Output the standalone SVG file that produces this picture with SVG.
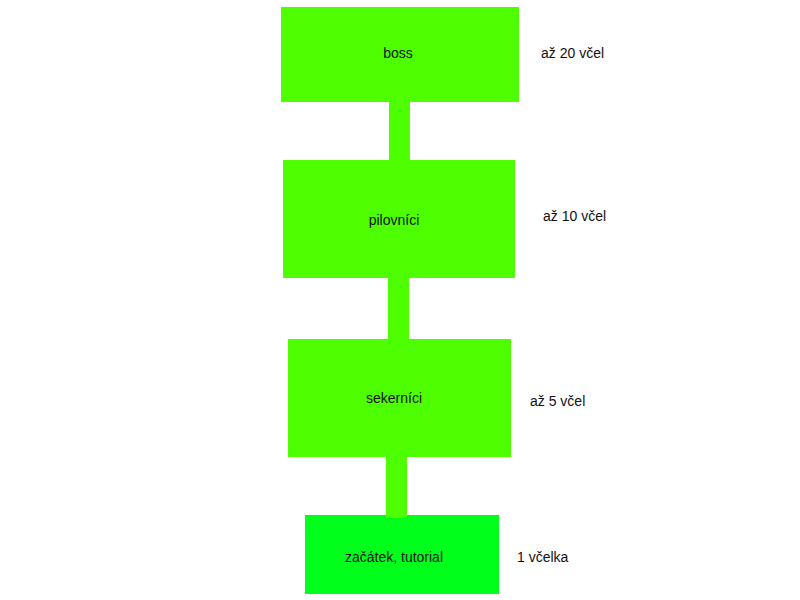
<svg xmlns="http://www.w3.org/2000/svg" width="800" height="600" viewBox="0 0 800 600">
<style>
.box{fill:#4dff00}
.start{fill:#00ff1a}
.bar{fill:#4dff00}
text{font-family:"Liberation Sans",Arial,sans-serif;font-size:14px;fill:#111}
.c{text-anchor:middle}
</style>
<rect width="800" height="600" fill="#fff"/>
<g id="node-boss"><rect class="box" x="281" y="7" width="238" height="95"/><text class="c" x="398" y="58">boss</text></g>
<g id="node-pilovnici"><rect class="box" x="283" y="160" width="232" height="118"/><text class="c" x="394" y="225">pilovníci</text></g>
<g id="node-sekernici"><rect class="box" x="288" y="339" width="223" height="118"/><text class="c" x="394" y="403">sekerníci</text></g>
<g id="node-zacatek"><rect class="start" x="305" y="515" width="194" height="79"/><text class="c" x="394" y="562">začátek, tutorial</text></g>
<g id="connectors">
<rect class="bar" x="389" y="102" width="21" height="58"/>
<rect class="bar" x="388" y="278" width="21" height="61"/>
<rect class="bar" x="386" y="457" width="21" height="61"/>
</g>
<g id="labels">
<text x="541" y="58">až 20 včel</text>
<text x="543" y="221">až 10 včel</text>
<text x="530" y="406">až 5 včel</text>
<text x="517" y="562">1 včelka</text>
</g>
</svg>
